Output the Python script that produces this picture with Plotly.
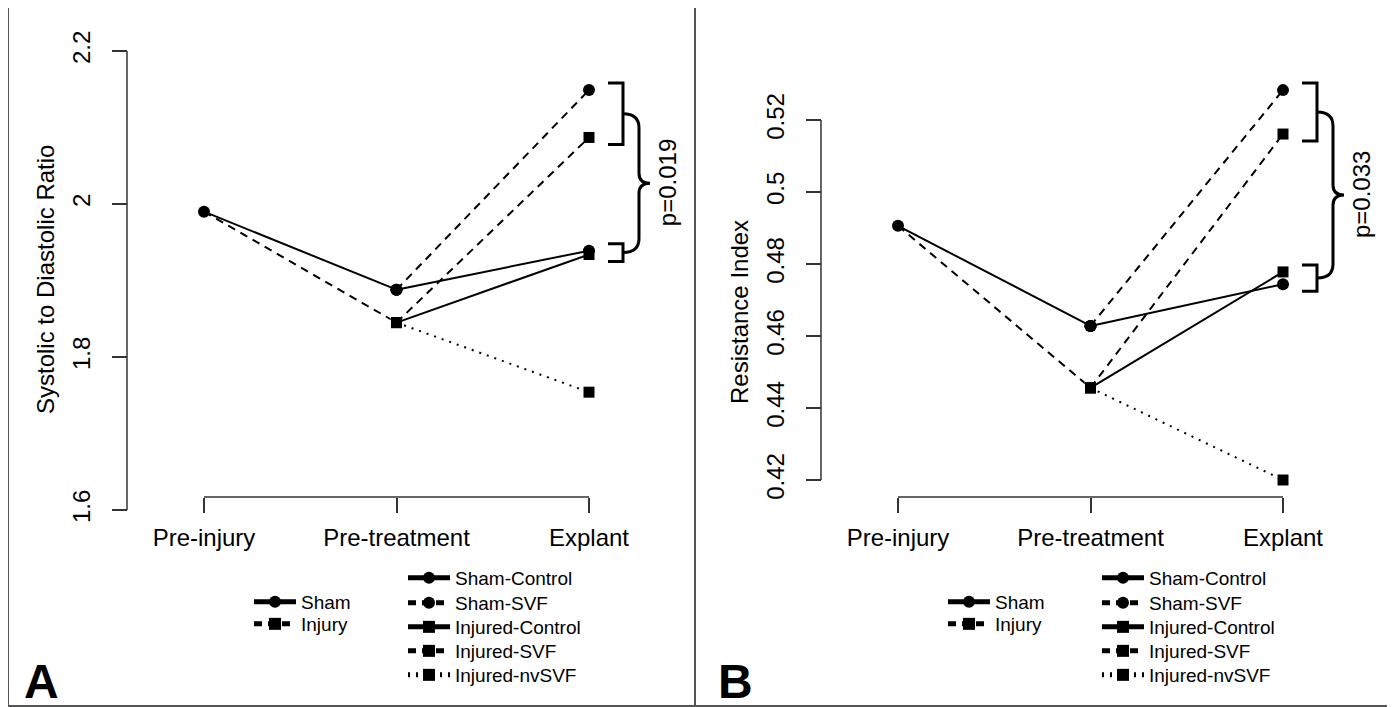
import plotly.graph_objects as go

W, H = 1395, 707
OFF = 8  # page body margin in the browser
FONT = "Liberation Sans, Arial, sans-serif"

# ---------------- data ----------------
time_labels = ["Pre-injury", "Pre-treatment", "Explant"]
time_pos = [1, 2, 3]

series_names = ["Sham-Control", "Sham-SVF", "Injured-Control", "Injured-SVF", "Injured-nvSVF"]

# Panel A: systolic to diastolic ratio
a_baseline = 1.990
a_pretreat_sham = 1.888
a_pretreat_injury = 1.845
a_explant = [1.939, 2.149, 1.934, 2.087, 1.754]
a_tickvals = [1.6, 1.8, 2.0, 2.2]
a_ticktext = ["1.6", "1.8", "2", "2.2"]
a_title = "Systolic to Diastolic Ratio"
a_pvalue = "p=0.019"

# Panel B: resistance index
b_baseline = 0.4906
b_pretreat_sham = 0.4628
b_pretreat_injury = 0.4456
b_explant = [0.4744, 0.5283, 0.4778, 0.5161, 0.4200]
b_tickvals = [0.42, 0.44, 0.46, 0.48, 0.50, 0.52]
b_ticktext = ["0.42", "0.44", "0.46", "0.48", "0.5", "0.52"]
b_title = "Resistance Index"
b_pvalue = "p=0.033"

# ---------------- styles ----------------
series_group = ["sham", "sham", "injury", "injury", "injury"]
series_dash = ["solid", "8px,6px", "solid", "8px,6px", "2px,6px"]
series_symbol = ["circle", "circle", "square", "square", "square"]
CIRCLE, SQUARE = 12, 11
LW = 2
AXC = "#333333"


def px2paper_x(px):
    return (px - OFF) / W


def px2paper_y(py):
    return 1 - (py - OFF) / H


fig = go.Figure()
layout = dict(width=W, height=H, margin=dict(l=0, r=0, t=0, b=0),
              paper_bgcolor="white", plot_bgcolor="white", showlegend=True,
              font=dict(family=FONT, color="black"))
shapes, annotations = [], []

panels = [
    dict(dx=0, base=a_baseline, ps=a_pretreat_sham, pi=a_pretreat_injury, ex=a_explant,
         tv=a_tickvals, tt=a_ticktext, title=a_title, p=a_pvalue, letter="A",
         ytop_px=51, ybot_px=510, k=765.0, yr=[1.55, 2.25], title_y=280),
    dict(dx=694, base=b_baseline, ps=b_pretreat_sham, pi=b_pretreat_injury, ex=b_explant,
         tv=b_tickvals, tt=b_ticktext, title=b_title, p=b_pvalue, letter="B",
         ytop_px=120, ybot_px=480, k=3600.0, yr=[0.41, 0.535], title_y=312),
]


def legend_cfg(xpx, ypx):
    return dict(x=px2paper_x(xpx), y=px2paper_y(ypx), xanchor="left", yanchor="middle",
                bgcolor="rgba(0,0,0,0)", borderwidth=0, itemwidth=42,
                itemsizing="constant", font=dict(size=19, family=FONT, color="black"))


legend_idx = 1
for i, P in enumerate(panels):
    dx = P["dx"]
    xa = "x" if i == 0 else "x2"
    ya = "y" if i == 0 else "y2"
    xkey = "xaxis" if i == 0 else "xaxis2"
    ykey = "yaxis" if i == 0 else "yaxis2"

    # x axis geometry (px): tick 1 at 204, tick 3 at 589
    xstep = 192.5
    xr = [0.5, 3.5]
    x0px = 204 + dx + (xr[0] - 1) * xstep
    x1px = 204 + dx + (xr[1] - 1) * xstep
    # y axis geometry
    tmax, tmin = max(P["tv"]), min(P["tv"])
    k = P["k"]
    ytop_dom = P["ytop_px"] - (P["yr"][1] - tmax) * k
    ybot_dom = P["ybot_px"] + (tmin - P["yr"][0]) * k
    yaxis_px = 127 + dx
    xaxis_py = 497

    layout[xkey] = dict(domain=[px2paper_x(x0px), px2paper_x(x1px)], range=xr,
                        anchor="free", position=px2paper_y(xaxis_py),
                        showline=False, showgrid=False, zeroline=False,
                        ticks="outside", ticklen=15, tickwidth=1.5, tickcolor=AXC,
                        tickvals=time_pos, ticktext=time_labels,
                        tickfont=dict(size=24, family=FONT, color="black"),
                        ticklabelstandoff=4, fixedrange=True)
    layout[ykey] = dict(domain=[px2paper_y(ybot_dom), px2paper_y(ytop_dom)], range=P["yr"],
                        anchor="free", position=px2paper_x(yaxis_px),
                        showline=False, showgrid=False, zeroline=False,
                        ticks="outside", ticklen=15, tickwidth=1.5, tickcolor=AXC,
                        tickvals=P["tv"], ticktext=P["tt"], tickangle=-90,
                        tickfont=dict(size=24, family=FONT, color="black"),
                        ticklabelstandoff=12, fixedrange=True)
    # axis lines spanning first..last tick (R style)
    shapes.append(dict(type="line", xref=xa, yref="paper", x0=time_pos[0], x1=time_pos[-1],
                       y0=px2paper_y(xaxis_py), y1=px2paper_y(xaxis_py),
                       line=dict(color=AXC, width=1.5)))
    shapes.append(dict(type="line", xref="paper", yref=ya, x0=px2paper_x(yaxis_px),
                       x1=px2paper_x(yaxis_px), y0=tmin, y1=tmax,
                       line=dict(color=AXC, width=1.5)))

    sham_leg = "legend" if legend_idx == 1 else "legend%d" % legend_idx
    inj_leg = "legend%d" % (legend_idx + 1)

    # --- traces: pre-injury -> pre-treatment
    fig.add_trace(go.Scatter(x=time_pos[:2], y=[P["base"], P["pi"]], mode="lines+markers",
                             name="Injury", xaxis=xa, yaxis=ya, cliponaxis=False, showlegend=False,
                             line=dict(color="black", width=LW, dash="8px,6px"),
                             marker=dict(symbol="square", size=[0, SQUARE], color="black")))
    fig.add_trace(go.Scatter(x=time_pos[:2], y=[P["base"], P["ps"]], mode="lines+markers",
                             name="Sham", xaxis=xa, yaxis=ya, cliponaxis=False,
                             line=dict(color="black", width=LW, dash="solid"),
                             marker=dict(symbol="circle", size=CIRCLE, color="black"),
                             legend=sham_leg))
    # legend key for the Injury series (square marker, dashed line)
    fig.add_trace(go.Scatter(x=[None], y=[None], mode="lines+markers", name="Injury",
                             xaxis=xa, yaxis=ya,
                             line=dict(color="black", width=LW, dash="8px,6px"),
                             marker=dict(symbol="square", size=SQUARE, color="black"),
                             legend=inj_leg))
    layout[sham_leg] = legend_cfg(249 + dx, 602)
    layout[inj_leg] = legend_cfg(249 + dx, 624)
    legend_idx += 2

    # --- traces: pre-treatment -> explant
    rows_y = [578, 603, 627, 651, 675]
    for j, name in enumerate(series_names):
        start = P["ps"] if series_group[j] == "sham" else P["pi"]
        leg = "legend%d" % legend_idx
        fig.add_trace(go.Scatter(x=time_pos[1:], y=[start, P["ex"][j]], mode="lines+markers",
                                 name=name, xaxis=xa, yaxis=ya, cliponaxis=False,
                                 line=dict(color="black", width=LW, dash=series_dash[j]),
                                 marker=dict(symbol=series_symbol[j],
                                             size=CIRCLE if series_symbol[j] == "circle" else SQUARE,
                                             color="black"),
                                 legend=leg))
        layout[leg] = legend_cfg(403 + dx, rows_y[j])
        legend_idx += 1

    # --- significance bracket & brace
    pad = 7 / k
    top_hi = max(P["ex"][1], P["ex"][3]) + pad
    top_lo = min(P["ex"][1], P["ex"][3]) - pad
    bot_hi = max(P["ex"][0], P["ex"][2]) + pad
    bot_lo = min(P["ex"][0], P["ex"][2]) - pad
    bx0, bx1 = px2paper_x(608 + dx), px2paper_x(623 + dx)
    for hi, lo in [(top_hi, top_lo), (bot_hi, bot_lo)]:
        shapes.append(dict(type="path", xref="paper", yref=ya,
                           path=f"M {bx0},{hi} L {bx1},{hi} L {bx1},{lo} L {bx0},{lo}",
                           line=dict(color="black", width=3)))
    yt = (top_hi + top_lo) / 2
    yb = (bot_hi + bot_lo) / 2
    ym = (yt + yb) / 2
    xv = px2paper_x(639 + dx)
    xt = px2paper_x(650 + dx)
    c1 = 14 / k
    c2 = 10 / k
    brace = (f"M {bx1},{yt} Q {xv},{yt} {xv},{yt - c1} L {xv},{ym + c2} "
             f"Q {xv},{ym} {xt},{ym} Q {xv},{ym} {xv},{ym - c2} "
             f"L {xv},{yb + c1} Q {xv},{yb} {bx1},{yb}")
    shapes.append(dict(type="path", xref="paper", yref=ya, path=brace,
                       line=dict(color="black", width=3)))
    annotations.append(dict(text=P["p"], xref="paper", yref=ya, x=px2paper_x(667 + dx), y=ym,
                            textangle=-90, showarrow=False, xanchor="center", yanchor="middle",
                            font=dict(size=24, family=FONT, color="black")))
    # y title
    annotations.append(dict(text=P["title"], xref="paper", yref="paper",
                            x=px2paper_x(45 + dx), y=px2paper_y(P["title_y"]),
                            textangle=-90, showarrow=False, xanchor="center", yanchor="middle",
                            font=dict(size=24, family=FONT, color="black")))
    # panel letter
    annotations.append(dict(text="<b>%s</b>" % P["letter"], xref="paper", yref="paper",
                            x=px2paper_x(41 + dx), y=px2paper_y(681), showarrow=False,
                            xanchor="center", yanchor="middle",
                            font=dict(size=48, family=FONT, color="black")))

# panel borders
BC = "#555555"
shapes.append(dict(type="rect", xref="paper", yref="paper", x0=px2paper_x(8), x1=px2paper_x(1392),
                   y0=px2paper_y(706), y1=px2paper_y(7), line=dict(color=BC, width=2)))
shapes.append(dict(type="line", xref="paper", yref="paper", x0=px2paper_x(695), x1=px2paper_x(695),
                   y0=px2paper_y(706), y1=px2paper_y(7), line=dict(color=BC, width=2)))

layout["shapes"] = shapes
layout["annotations"] = annotations
fig.update_layout(**layout)
fig.write_html("out.html")
